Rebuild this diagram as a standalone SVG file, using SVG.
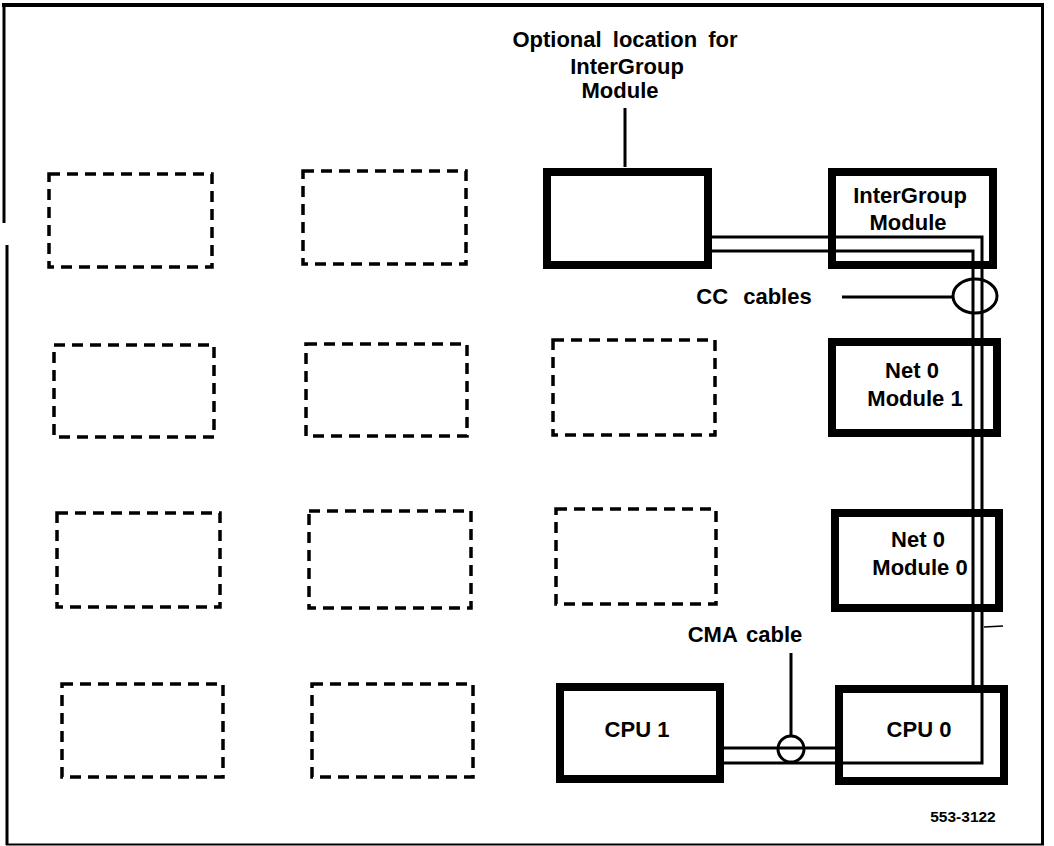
<svg xmlns="http://www.w3.org/2000/svg" width="1054" height="846" viewBox="0 0 1054 846">
<style>
.frame{stroke:#000;fill:none}
.slot{fill:none;stroke:#000;stroke-width:3.5;stroke-dasharray:11 7}
.mod{fill:none;stroke:#000;stroke-width:8}
.cable{fill:none;stroke:#000;stroke-width:3}
.lead{fill:none;stroke:#000;stroke-width:3}
.lbl{font-family:"Liberation Sans",Arial,Helvetica,sans-serif;font-weight:bold;font-size:22px;fill:#000;text-anchor:middle}
.small{font-size:15.5px}
</style>
<rect width="1054" height="846" fill="#fff"/>
<g id="frame">
<line class="frame" x1="2" y1="5" x2="1044" y2="5" stroke-width="4"/>
<line class="frame" x1="1042.5" y1="3" x2="1042.5" y2="845" stroke-width="3"/>
<line class="frame" x1="6" y1="844.5" x2="1044" y2="844.5" stroke-width="2"/>
<line class="frame" x1="4" y1="3" x2="4" y2="223" stroke-width="3"/>
<line class="frame" x1="7" y1="245" x2="7" y2="845" stroke-width="3"/>
</g>
<g id="slots">
<rect id="slot-r1c1" class="slot" x="49" y="174" width="163" height="93"/>
<rect id="slot-r1c2" class="slot" x="303" y="171" width="163" height="93"/>
<rect id="slot-r2c1" class="slot" x="54" y="345" width="160" height="92"/>
<rect id="slot-r2c2" class="slot" x="306" y="344" width="161" height="92"/>
<rect id="slot-r2c3" class="slot" x="553" y="340" width="162" height="95"/>
<rect id="slot-r3c1" class="slot" x="57" y="513" width="163" height="94"/>
<rect id="slot-r3c2" class="slot" x="309" y="511" width="162" height="97"/>
<rect id="slot-r3c3" class="slot" x="556" y="509" width="160" height="95"/>
<rect id="slot-r4c1" class="slot" x="62" y="684" width="161" height="93"/>
<rect id="slot-r4c2" class="slot" x="312" y="684" width="161" height="93"/>
</g>
<g id="connectors">
<path class="cable" d="M712,237 H982 V763 H724"/>
<path class="cable" d="M712,251 H973 V685"/>
<path class="cable" d="M724,748 H835"/>
<ellipse class="lead" cx="975" cy="296" rx="22" ry="17"/>
<line class="lead" x1="842" y1="297" x2="953" y2="297"/>
<circle class="lead" cx="791" cy="749" r="13"/>
<line class="lead" x1="791" y1="653" x2="791" y2="736"/>
<line class="lead" x1="625" y1="108" x2="625" y2="167"/>
<path d="M984,627 L1003,626" stroke="#000" stroke-width="1.5" fill="none"/>
</g>
<g id="optional">
<rect class="mod" x="547" y="172" width="161" height="93"/>
<text class="lbl" x="625" y="47" word-spacing="5">Optional location for</text>
<text class="lbl" x="627" y="74">InterGroup</text>
<text class="lbl" x="620" y="98">Module</text>
</g>
<g id="intergroup">
<rect class="mod" x="832" y="172" width="161" height="93"/>
<text class="lbl" x="910" y="203">InterGroup</text>
<text class="lbl" x="908" y="230">Module</text>
</g>
<g id="net0mod1">
<rect class="mod" x="832" y="342" width="165" height="91"/>
<text class="lbl" x="912" y="378">Net 0</text>
<text class="lbl" x="915" y="406">Module 1</text>
</g>
<g id="net0mod0">
<rect class="mod" x="835" y="513" width="164" height="95"/>
<text class="lbl" x="918" y="547">Net 0</text>
<text class="lbl" x="920" y="575">Module 0</text>
</g>
<g id="cpu1">
<rect class="mod" x="560" y="687" width="160" height="92"/>
<text class="lbl" x="637" y="737">CPU 1</text>
</g>
<g id="cpu0">
<rect class="mod" x="839" y="689" width="165" height="92"/>
<text class="lbl" x="919" y="737">CPU 0</text>
</g>
<g id="labels">
<text class="lbl" x="754" y="304" word-spacing="9">CC cables</text>
<text class="lbl" x="745" y="642" word-spacing="3">CMA cable</text>
<text class="lbl small" x="963" y="822">553-3122</text>
</g>
</svg>
